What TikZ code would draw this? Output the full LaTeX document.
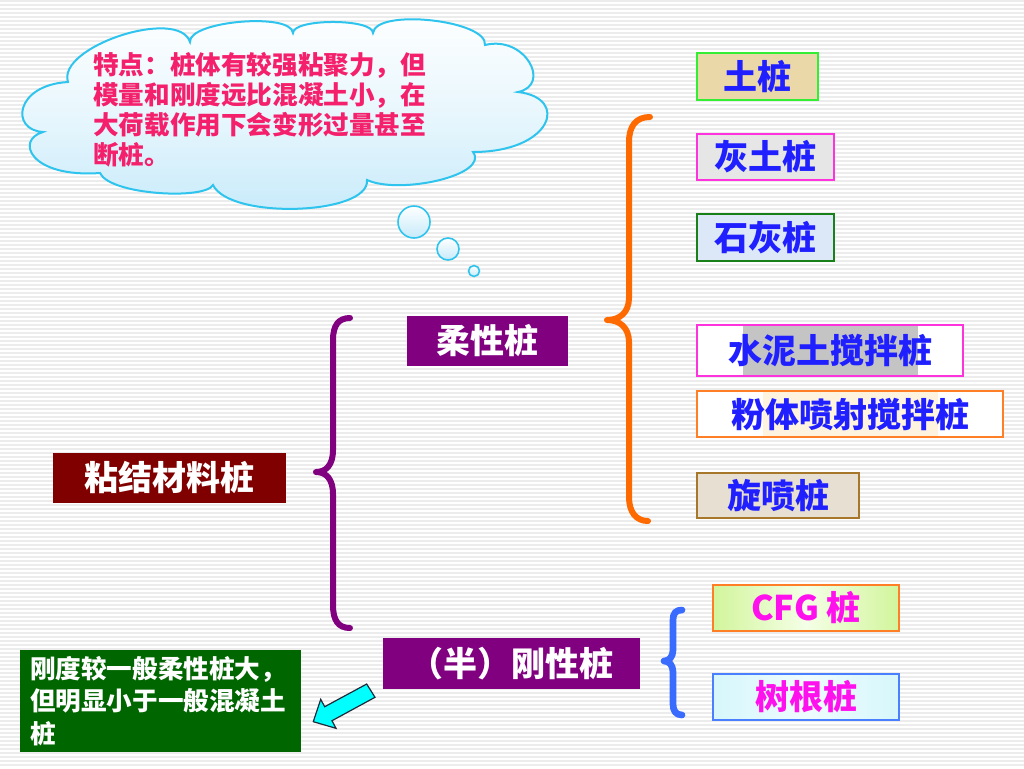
\documentclass[tikz,border=0pt]{standalone}
\usepackage{fontspec}
\newfontfamily\cjk{Noto Sans CJK SC}
\definecolor{pgpurple}{HTML}{800080}
\definecolor{pgdarkred}{HTML}{800000}
\definecolor{pggreen}{HTML}{006600}
\definecolor{pgorange}{HTML}{FF6A00}
\definecolor{pgblue}{HTML}{3A6BFF}
\definecolor{cloudline}{HTML}{2EC4EE}
\definecolor{cloudfill}{HTML}{C6EAFA}
\definecolor{pinktext}{HTML}{F5206B}
\definecolor{boxblue}{HTML}{1F1FFF}
\definecolor{magtext}{HTML}{FF11EE}
\definecolor{stripecol}{HTML}{ECECEC}
\definecolor{tanfill}{HTML}{EAD8A8}
\definecolor{limeline}{HTML}{33EE33}
\definecolor{pinkline}{HTML}{FF33DD}
\definecolor{grayfill}{HTML}{E6E6E6}
\definecolor{bluefill}{HTML}{DCE8F8}
\definecolor{dkgreenline}{HTML}{1A801A}
\definecolor{texgray}{HTML}{C4C4C4}
\definecolor{cream}{HTML}{FDF3DE}
\definecolor{orangeline}{HTML}{FF7F27}
\definecolor{beige}{HTML}{E6DFD2}
\definecolor{brownline}{HTML}{A8782A}
\definecolor{cfgfill}{HTML}{D2F59C}
\definecolor{cfgmid}{HTML}{F4FFE6}
\definecolor{rootfill}{HTML}{D6F7FB}
\definecolor{rootline}{HTML}{4A80FF}
\definecolor{arrowcyan}{HTML}{00FFFF}
\definecolor{arrowline}{HTML}{1E2A3A}
\begin{document}
\begin{tikzpicture}[x=0.75pt,y=-0.75pt,
  pilebox/.style={draw, line width=1.5pt, inner sep=0pt, align=center,
    font=\cjk\bfseries\fontsize{25.5}{30}\selectfont, text=boxblue},
  darkbox/.style={inner sep=0pt, text=white,
    font=\cjk\bfseries\fontsize{25.5}{30}\selectfont},
  bracepath/.style={line width=4.5pt, line cap=round, line join=round},
  bubble/.style={draw=cloudline, line width=1.2pt, top color=white, bottom color=cloudfill}]
\useasboundingbox (0,0) rectangle (1024,768);
\fill[white] (0,0) rectangle (1024,768);
\foreach \i in {0,...,191} {\fill[stripecol] (0,4*\i) rectangle (1024,4*\i+1.5);}

% cloud
\path[draw=cloudline, line width=1.5pt, top color=white, bottom color=cloudfill, middle color=white!60!cloudfill]
  (68,82) .. controls (56.5,46.8) and (178.5,6.8) .. (190,42)
  .. controls (188.2,21.1) and (291.2,12.1) .. (293,33)
  .. controls (293,18.3) and (373,18.3) .. (373,33)
  .. controls (375.7,8.1) and (487.7,20.1) .. (485,45)
  .. controls (525,35) and (552,85) .. (518,92)
  .. controls (570,98) and (552,152) .. (473,152)
  .. controls (490,175) and (400,195) .. (367,180)
  .. controls (370,215) and (230,220) .. (213,185)
  .. controls (205,200) and (110,195) .. (100,173)
  .. controls (30,178) and (15,140) .. (43,132)
  .. controls (10,130) and (15,85) .. (68,82) -- cycle;
\path[bubble] (414,222) circle[radius=12pt];
\path[bubble] (448,249) circle[radius=8.25pt];
\path[bubble] (474,271) circle[radius=4.1pt];
\node[anchor=north west, inner sep=0pt, align=left, text=pinktext,
  font=\cjk\bfseries\fontsize{19.2}{22.5}\selectfont] (tip) at (93,52)
  {特点：桩体有较强粘聚力，但\\模量和刚度远比混凝土小，在\\大荷载作用下会变形过量甚至\\断桩。};

% right column boxes
\node[pilebox, draw=limeline, fill=tanfill, minimum width=90.75pt, minimum height=35.25pt] (tu) at (757.5,76.5) {土桩};
\node[pilebox, draw=pinkline, fill=grayfill, minimum width=102.75pt, minimum height=34.5pt] (huitu) at (765.5,157) {灰土桩};
\node[pilebox, draw=dkgreenline, fill=bluefill, minimum width=102.75pt, minimum height=35.25pt] (shihui) at (765.5,237.5) {石灰桩};
\node[pilebox, draw=pinkline, fill=white, minimum width=199.5pt, minimum height=38.25pt,
  path picture={\fill[texgray] ([xshift=34.5pt]path picture bounding box.south west) rectangle ([xshift=-33.75pt]path picture bounding box.north east);}] (shuini) at (830,350.5) {水泥土搅拌桩};
\node[pilebox, draw=orangeline, fill=white, minimum width=229.5pt, minimum height=34.5pt,
  path picture={\fill[cream] ([xshift=49.5pt]path picture bounding box.south west) rectangle ([xshift=-48.75pt]path picture bounding box.north east);}] (fenti) at (850,414) {粉体喷射搅拌桩};
\node[pilebox, draw=brownline, fill=beige, minimum width=121.5pt, minimum height=33.75pt] (xuanpen) at (778,495.5) {旋喷桩};

% category boxes
\node[darkbox, fill=pgpurple, minimum width=120.75pt, minimum height=37.5pt] (rouxing) at (487.5,341) {柔性桩};
\node[darkbox, fill=pgdarkred, minimum width=174.75pt, minimum height=37.5pt] (nianjie) at (169.5,478) {粘结材料桩};
\node[darkbox, fill=pgpurple, minimum width=192.75pt, minimum height=38.25pt] (gangxing) at (511.5,663.5) {（半）刚性桩};

\node[pilebox, draw=orangeline, text=magtext, left color=cfgfill, right color=cfgfill, middle color=cfgmid,
  minimum width=139.5pt, minimum height=34.5pt] (cfg) at (806,608) {CFG 桩};
\node[pilebox, draw=rootline, text=magtext, left color=rootfill, right color=rootfill, middle color=white!60!rootfill,
  minimum width=139.5pt, minimum height=34.5pt] (shugen) at (806,697) {树根桩};

\node[fill=pggreen, text=white, inner xsep=7.5pt, inner ysep=0pt, minimum width=210.75pt,
  minimum height=76.5pt, text width=195.75pt, align=left,
  font=\cjk\bfseries\fontsize{19.2}{24.4}\selectfont] (note) at (160.5,701)
  {刚度较一般柔性桩大，\\但明显小于一般混凝土\\桩};

% braces
\draw[bracepath, pgorange] (650,117) .. controls (636,117) and (629,126) .. (629,142) -- (629,298)
  .. controls (629,312) and (620,320) .. (607,320) .. controls (620,320) and (629,328) .. (629,342)
  -- (629,497) .. controls (629,512) and (636,521) .. (648,521);
\draw[bracepath, pgpurple] (350,318) .. controls (338,318) and (333,326) .. (333,340) -- (333,450)
  .. controls (333,465) and (326,472) .. (316,472) .. controls (326,472) and (333,479) .. (333,494)
  -- (333,605) .. controls (333,620) and (338,628) .. (350,628);
\draw[bracepath, pgblue, line width=5pt] (682,610) .. controls (676,610) and (673,613) .. (673,620) -- (673,650)
  .. controls (673,657) and (669,661) .. (664,661) .. controls (669,661) and (673,665) .. (673,672)
  -- (673,704) .. controls (673,711) and (676,715) .. (682,715);

% block arrow
\draw[fill=arrowcyan, draw=arrowline, line width=0.9pt, line join=miter]
  (313.3,721.7) -- (336,728.3) -- (332,720.7) -- (375,697.3) -- (366.7,684)
  -- (324.7,706.7) -- (320.7,699.3) -- cycle;
\end{tikzpicture}
\end{document}
